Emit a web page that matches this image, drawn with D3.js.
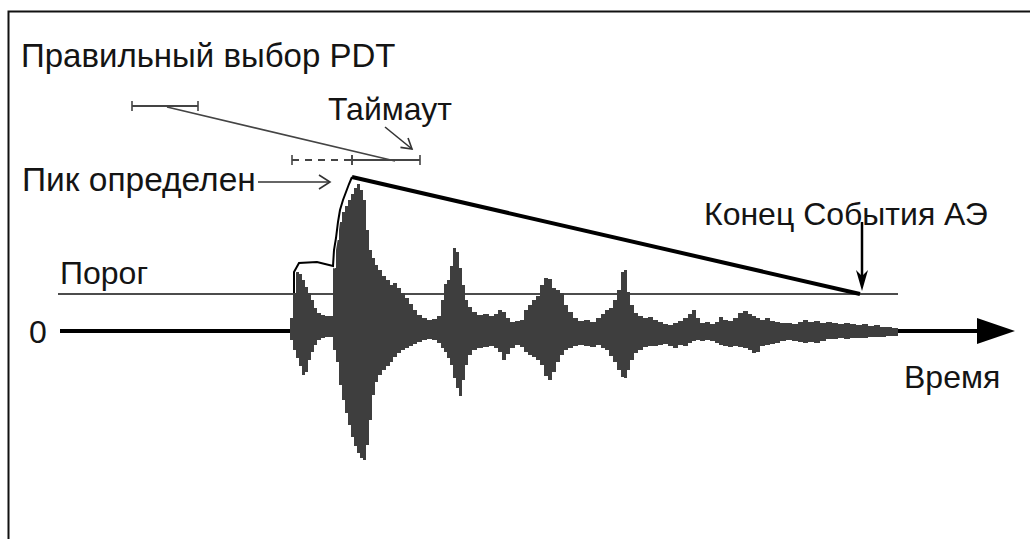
<!DOCTYPE html>
<html>
<head>
<meta charset="utf-8">
<script src="https://cdn.jsdelivr.net/npm/d3@7"></script>
<style>
  html, body { margin: 0; padding: 0; background: #fff; }
  svg { display: block; }
  text { font-family: "Liberation Sans", Arial, Helvetica, sans-serif; fill: #141414; }
</style>
</head>
<body>
<svg id="chart" width="1030" height="539"></svg>
<script>
// Acoustic-emission hit: envelope of the recorded signal (time in µs, amplitude in arbitrary units)
const sampleTime = [230,233,236,239,242,245,248,251,254,257,261,265,269,273,276,279,282,285,288,291,294,297,300,303,306,309,312,315,318,322,326,330,333,337,341,345,349,353,357,362,367,372,377,381,384,387,390,393,396,399,402,405,408,412,417,423,429,434,438,442,446,450,455,460,464,468,472,476,480,484,488,492,496,500,504,508,513,518,524,530,536,541,545,549,553,557,561,564,567,570,574,578,583,588,593,598,603,608,613,618,623,628,632,636,640,645,650,655,659,663,668,673,678,683,688,692,696,700,705,710,715,720,726,732,738,743,748,754,760,766,772,778,784,790,796,802,808,814,820,826,832,838];
const peakPos = [13,41,59,57,51,44,38,31,23,18,16,15,15,63,91,109,119,125,131,137,143,147,141,131,101,81,73,66,61,55,51,46,48,43,38,33,27,21,16,13,11,12,15,31,47,51,65,83,79,63,46,31,24,19,16,17,15,17,21,19,13,9,10,11,21,26,31,35,46,53,52,43,41,38,26,19,13,10,11,9,13,17,21,23,31,41,59,61,39,26,18,15,13,14,11,9,7,6,8,10,13,17,21,13,8,9,7,9,14,11,10,13,18,20,17,15,13,11,13,10,9,8,8,7,9,11,9,10,8,9,8,7,8,7,6,7,5,6,4,4,3,3];
const peakNeg = [-9,-19,-27,-35,-44,-41,-29,-21,-14,-9,-7,-6,-6,-19,-31,-54,-69,-82,-94,-106,-115,-122,-127,-129,-114,-89,-64,-51,-44,-39,-35,-31,-26,-22,-19,-17,-15,-13,-11,-9,-8,-9,-12,-17,-21,-27,-34,-47,-57,-65,-49,-34,-24,-19,-17,-16,-15,-17,-21,-29,-23,-17,-14,-16,-21,-24,-26,-29,-34,-45,-49,-41,-31,-24,-19,-17,-15,-14,-15,-16,-14,-17,-19,-25,-31,-39,-46,-47,-39,-29,-22,-19,-16,-15,-15,-14,-13,-15,-17,-14,-15,-12,-10,-9,-10,-9,-10,-12,-14,-15,-16,-15,-16,-17,-19,-22,-21,-15,-14,-13,-12,-10,-9,-10,-11,-12,-11,-12,-10,-8,-8,-7,-8,-7,-7,-7,-6,-6,-6,-5,-5,-5];

// Peak-detection trace that follows the rising front up to the peak
const holdTime = [234,234,239,257,273,274,276,278,280,283,286,289,292];
const holdAmp  = [38,59,68,69,65,81,93,109,121,131,139,147,154];

// Acquisition settings and derived event markers
const threshold = 37;
const axisStart = 0, axisEnd = 955;
const thresholdStart = -2, thresholdEnd = 838;
const peakTime = 292, peakAmp = 154;
const eventEnd = 800;

// Timing brackets (PDT / timeout) drawn above the signal
const pdtBracket = { from: 72, to: 138, level: 225 };
const timeoutDashed = { from: 232, to: 292, level: 171 };
const timeoutSolid = { from: 292, to: 360, level: 171 };
const pdtLink = { t0: 107, a0: 224, t1: 335, a1: 170 };

// Labels
const labels = {
  title: "Правильный выбор PDT",
  timeout: "Таймаут",
  peak: "Пик определен",
  threshold: "Порог",
  zero: "0",
  end: "Конец События АЭ",
  time: "Время"
};

const svg = d3.select("#chart");
const x = d3.scaleLinear().domain([0, 950]).range([60, 1010]);
const y = d3.scaleLinear().domain([-200, 200]).range([531, 131]);

// frame
svg.append("rect").attr("x", 8.5).attr("y", 11.5).attr("width", 1040).attr("height", 560)
  .attr("fill", "none").attr("stroke", "#111").attr("stroke-width", 2);

// zero axis with arrow
svg.append("line")
  .attr("x1", x(axisStart)).attr("x2", x(axisEnd - 35))
  .attr("y1", y(0)).attr("y2", y(0))
  .attr("stroke", "#000").attr("stroke-width", 4);
svg.append("path")
  .attr("d", `M${x(axisEnd)},${y(0)} L${x(axisEnd - 38)},${y(0) - 13} L${x(axisEnd - 38)},${y(0) + 13} Z`)
  .attr("fill", "#000");

// threshold
svg.append("line")
  .attr("x1", x(thresholdStart)).attr("x2", x(thresholdEnd))
  .attr("y1", y(threshold)).attr("y2", y(threshold))
  .attr("stroke", "#111").attr("stroke-width", 1.6);

// signal envelope
const env = sampleTime.map((t, i) => ({ t, pos: peakPos[i], neg: peakNeg[i] }));
svg.append("path")
  .datum(env)
  .attr("d", d3.area().x(d => x(d.t)).y0(d => y(d.neg)).y1(d => y(d.pos)).curve(d3.curveStepAfter))
  .attr("fill", "#3e3e3e");

// peak-detection trace (white halo keeps it apart from the fill)
const hold = holdTime.map((t, i) => [x(t), y(holdAmp[i])]);
svg.append("path").attr("d", d3.line()(hold))
  .attr("fill", "none").attr("stroke", "#fff").attr("stroke-width", 4);
svg.append("path").attr("d", d3.line()(hold))
  .attr("fill", "none").attr("stroke", "#000").attr("stroke-width", 2);

// decay line from the peak to the end of the event
svg.append("line")
  .attr("x1", x(peakTime)).attr("y1", y(peakAmp))
  .attr("x2", x(eventEnd)).attr("y2", y(threshold))
  .attr("stroke", "#000").attr("stroke-width", 4);

// brackets
function bracket(b, dashed) {
  svg.append("line")
    .attr("x1", x(b.from)).attr("x2", x(b.to))
    .attr("y1", y(b.level)).attr("y2", y(b.level))
    .attr("stroke", "#444").attr("stroke-width", 2)
    .attr("stroke-dasharray", dashed ? "7,6" : null);
  [b.from, b.to].forEach(t => svg.append("line")
    .attr("x1", x(t)).attr("x2", x(t))
    .attr("y1", y(b.level) - 5).attr("y2", y(b.level) + 5)
    .attr("stroke", "#444").attr("stroke-width", 1.6));
}
bracket(pdtBracket, false);
bracket(timeoutDashed, true);
bracket(timeoutSolid, false);
svg.append("line")
  .attr("x1", x(pdtLink.t0)).attr("y1", y(pdtLink.a0))
  .attr("x2", x(pdtLink.t1)).attr("y2", y(pdtLink.a1))
  .attr("stroke", "#444").attr("stroke-width", 1.6);

// small arrows
function openArrow(x0, y0, x1, y1, len, half, width) {
  svg.append("line").attr("x1", x0).attr("y1", y0).attr("x2", x1).attr("y2", y1)
    .attr("stroke", "#333").attr("stroke-width", width);
  const a = Math.atan2(y1 - y0, x1 - x0);
  const p = (s) => [x1 - len * Math.cos(a) + s * half * Math.sin(a), y1 - len * Math.sin(a) - s * half * Math.cos(a)];
  svg.append("path").attr("d", d3.line()([p(1), [x1, y1], p(-1)]))
    .attr("fill", "none").attr("stroke", "#333").attr("stroke-width", width);
}
openArrow(x(198), y(149), x(270), y(149), 11, 7, 1.6);
openArrow(x(325), y(204), x(352), y(182), 10, 6, 1.6);

// end-of-event arrow
const ex = x(eventEnd) + 2;
svg.append("line").attr("x1", ex).attr("x2", ex).attr("y1", 222).attr("y2", y(threshold) - 14)
  .attr("stroke", "#000").attr("stroke-width", 2.5);
svg.append("path")
  .attr("d", `M${ex},${y(threshold) - 3} L${ex - 6},${y(threshold) - 24} L${ex},${y(threshold) - 18} L${ex + 6},${y(threshold) - 24} Z`)
  .attr("fill", "#000");

// text
svg.append("text").attr("x", 21).attr("y", 67).attr("font-size", 33).text(labels.title);
svg.append("text").attr("x", 328).attr("y", 120).attr("font-size", 32).text(labels.timeout);
svg.append("text").attr("x", 22).attr("y", 191).attr("font-size", 33.5).text(labels.peak);
svg.append("text").attr("x", 60).attr("y", 284).attr("font-size", 32).text(labels.threshold);
svg.append("text").attr("x", 29).attr("y", y(0) + 12).attr("font-size", 32).text(labels.zero);
svg.append("text").attr("x", 704).attr("y", 225).attr("font-size", 32).text(labels.end);
svg.append("text").attr("x", 904).attr("y", 388).attr("font-size", 32).text(labels.time);
</script>
</body>
</html>
